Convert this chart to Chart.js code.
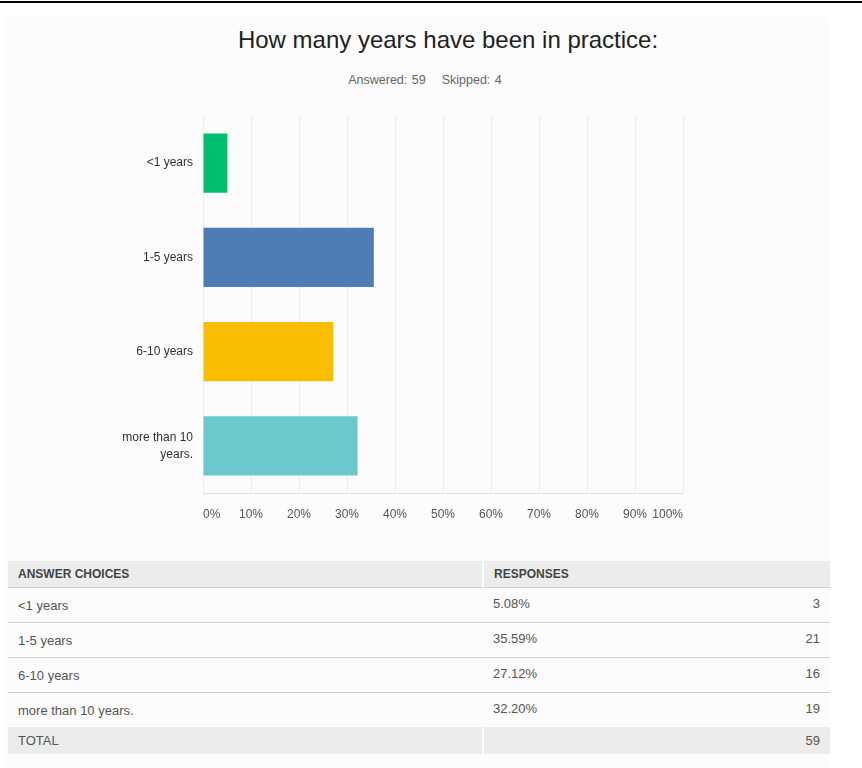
<!DOCTYPE html>
<html>
<head>
<meta charset="utf-8">
<script src="https://cdn.jsdelivr.net/npm/chart.js@4"></script>
<style>
  body { margin: 0; width: 862px; height: 768px; background: #fff; position: relative; overflow: hidden;
         font-family: "Liberation Sans", Arial, sans-serif; }
  #topline { position: absolute; left: 0; top: 1px; width: 862px; height: 2px; background: #000; }
  #panel { position: absolute; left: 5px; top: 17px; width: 825px; height: 751px; background: #fcfcfc; }
  #title { position: absolute; left: 0; width: 896px; top: 25px; text-align: center;
           font-size: 24px; color: #222; line-height: 30px; }
  #sub { position: absolute; left: 0; width: 850px; top: 72px; text-align: center;
         font-size: 12.5px; color: #666; line-height: 16px; word-spacing: 1px; }
  #sub span { margin-left: 16px; }
  #chart { position: absolute; left: 0; top: 100px; }
  table { position: absolute; left: 8px; top: 561px; width: 822px; border-collapse: collapse;
          font-size: 13px; color: #555; }
  th { background: #ececec; color: #444; font-size: 12px; font-weight: bold; text-align: left;
       height: 26px; padding: 0 0 0 10px; }
  td { height: 34px; padding: 0 0 0 10px; border-top: 1px solid #cfcfcf; }
  td.pct { vertical-align: top; padding-top: 8px; height: 26px; }
  td.num { text-align: right; padding-right: 10px; vertical-align: top; padding-top: 8px; height: 26px; }
  tr.total td { background: #ececec; height: 27px; border-top: none; }
  .sep { border-left: 2px solid #fcfcfc; }
</style>
</head>
<body>
<div id="topline"></div>
<div id="panel"></div>
<div id="title">How many years have been in practice:</div>
<div id="sub">Answered: 59<span>Skipped: 4</span></div>
<canvas id="chart" width="862" height="440"></canvas>
<table id="responses"></table>
<script>
// answer choices and results
var choices = ['<1 years', '1-5 years', '6-10 years', 'more than 10 years.'];
var axisLabels = ['<1 years', '1-5 years', '6-10 years', ['more than 10', 'years.']];
var percents = [5.08, 35.59, 27.12, 32.20];
var counts = [3, 21, 16, 19];
var total = 59;
var barColors = ['#00bf6f', '#507cb6', '#f9be00', '#6bc8cd'];

var ctx = document.getElementById('chart');
var myChart = new Chart(ctx, {
    type: 'bar',
    data: {
        labels: axisLabels,
        datasets: [{
            data: percents,
            backgroundColor: barColors,
            categoryPercentage: 1,
            barPercentage: 0.63
        }]
    },
    options: {
        indexAxis: 'y',
        responsive: false,
        animation: false,
        layout: { padding: { top: 16, right: 179, bottom: 0, left: 0 } },
        plugins: { legend: { display: false }, tooltip: { enabled: false } },
        scales: {
            x: {
                min: 0,
                max: 100,
                grid: { color: '#ebebeb', drawTicks: false },
                border: { display: true, color: '#e0e0e0' },
                ticks: {
                    stepSize: 10,
                    align: 'inner',
                    padding: 14,
                    color: '#555',
                    font: { family: '"Liberation Sans", Arial, sans-serif', size: 12 },
                    callback: function (v) { return v + '%'; }
                },
                afterFit: function (scale) { scale.height = 47; }
            },
            y: {
                grid: { display: false, drawTicks: false },
                border: { display: false },
                ticks: {
                    padding: 10,
                    color: '#333',
                    font: { family: '"Liberation Sans", Arial, sans-serif', size: 12, lineHeight: 1.4 }
                },
                afterFit: function (scale) {
                    scale.width = 203;
                    // labels sit between bars, no extra room needed above/below
                    scale.paddingTop = 0;
                    scale.paddingBottom = 0;
                }
            }
        }
    }
});

// response table under the chart
var table = document.getElementById('responses');
var html = '<tr><th>ANSWER CHOICES</th><th class="sep" colspan="2">RESPONSES</th></tr>';
for (var i = 0; i < choices.length; i++) {
    html += '<tr><td style="width:465px">' + choices[i].replace('<', '&lt;') + '</td>' +
        '<td class="pct">' + percents[i].toFixed(2) + '%</td>' +
        '<td class="num">' + counts[i] + '</td></tr>';
}
html += '<tr class="total"><td>TOTAL</td><td class="sep"></td><td class="num" style="padding-top:0;vertical-align:middle">' + total + '</td></tr>';
table.innerHTML = html;
</script>
</body>
</html>
